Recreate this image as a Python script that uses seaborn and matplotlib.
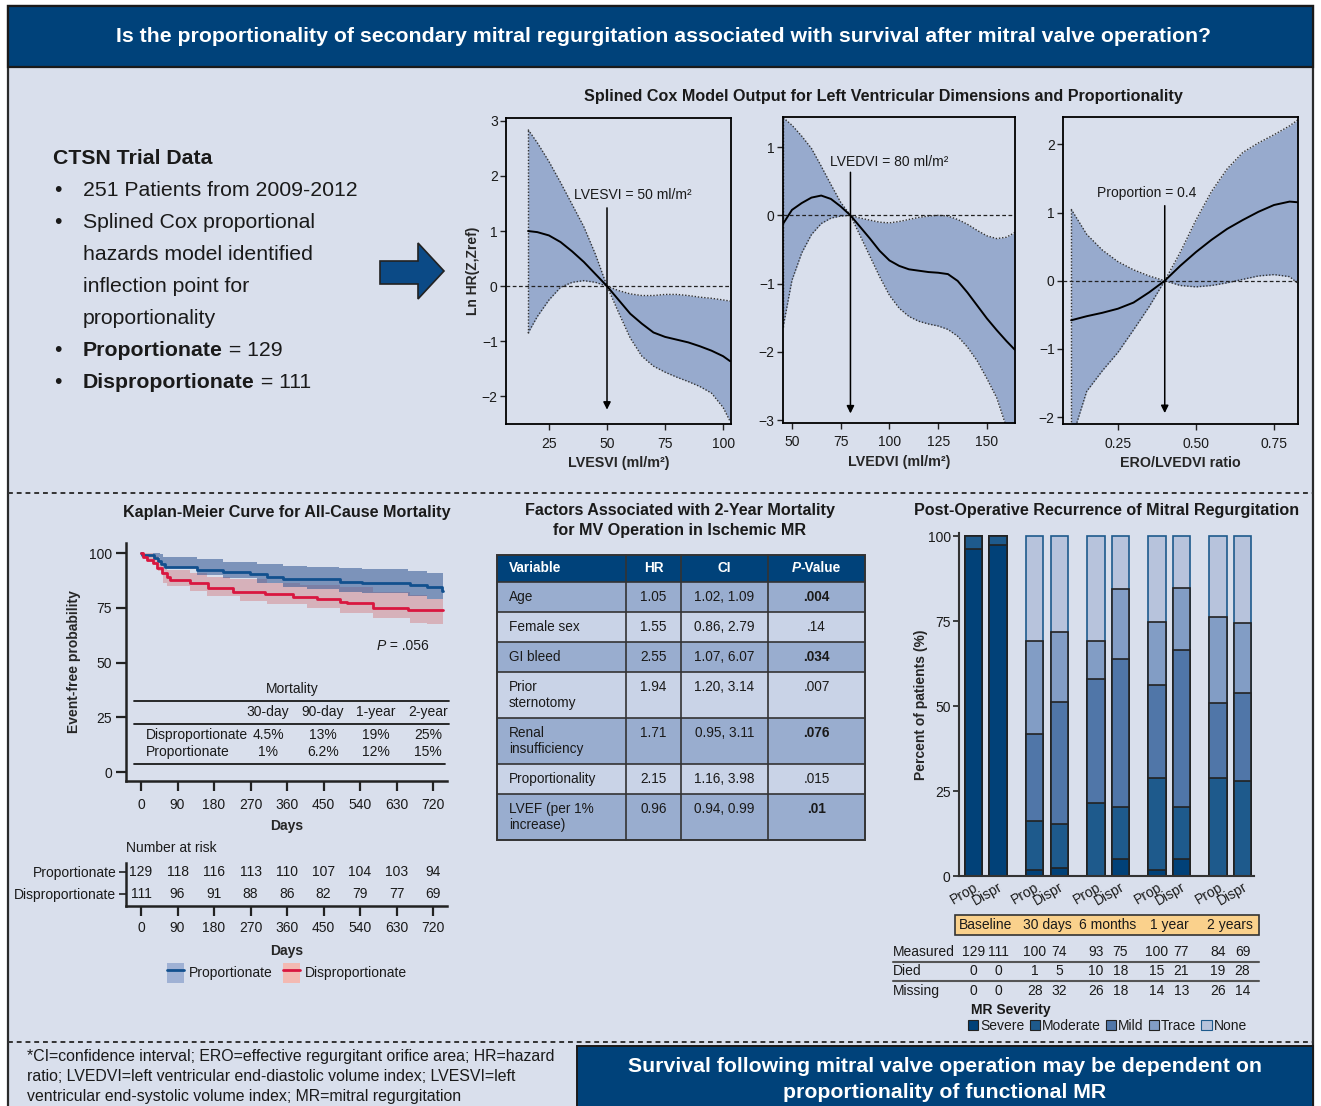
import matplotlib
matplotlib.use("Agg")
import matplotlib.pyplot as plt
import matplotlib.transforms as mtransforms
from matplotlib.patches import Rectangle, Polygon, Patch
from matplotlib.lines import Line2D
from matplotlib.legend_handler import HandlerTuple
import numpy as np
import seaborn as sns

W, H = 1321, 1106
NAVY = "#00427A"
PANEL_BG = "#D9DFEC"
BAND = "#97AACD"
INK = "#1a1a1a"

# ---------------- Splined Cox model: LVESVI ----------------
lvesvi_x = [16, 20, 25, 30, 35, 40, 45, 50, 55, 60, 65, 70, 75, 80, 85, 90, 95, 100, 103]
lvesvi_est = [1.00, 0.98, 0.92, 0.80, 0.63, 0.44, 0.22, 0.0, -0.25, -0.50, -0.68, -0.84, -0.92,
              -0.97, -1.02, -1.09, -1.17, -1.27, -1.36]
lvesvi_hi = [2.84, 2.60, 2.26, 1.88, 1.48, 1.08, 0.58, 0.0, -0.08, -0.14, -0.17, -0.17, -0.15,
             -0.15, -0.17, -0.20, -0.22, -0.25, -0.27]
lvesvi_lo = [-0.85, -0.55, -0.25, -0.02, 0.07, 0.10, 0.07, 0.0, -0.48, -0.94, -1.27, -1.45, -1.56,
             -1.65, -1.73, -1.82, -1.94, -2.20, -2.45]

# ---------------- Splined Cox model: LVEDVI ----------------
lvedvi_x = [45.5, 50, 55, 60, 65, 70, 75, 80, 85, 90, 95, 100, 105, 110, 115, 120, 125, 130, 135,
            140, 145, 150, 155, 160, 164.4]
lvedvi_est = [-0.12, 0.08, 0.18, 0.26, 0.29, 0.24, 0.13, 0.0, -0.17, -0.34, -0.52, -0.66, -0.74,
              -0.79, -0.81, -0.83, -0.84, -0.86, -0.96, -1.13, -1.32, -1.51, -1.68, -1.84, -1.97]
lvedvi_hi = [1.43, 1.32, 1.16, 0.98, 0.72, 0.45, 0.19, 0.0, -0.04, -0.07, -0.10, -0.11, -0.09,
             -0.06, -0.03, -0.01, 0.0, -0.01, -0.06, -0.13, -0.22, -0.30, -0.34, -0.32, -0.25]
lvedvi_lo = [-1.63, -0.95, -0.55, -0.28, -0.12, -0.04, -0.01, 0.0, -0.30, -0.60, -0.90, -1.17,
             -1.36, -1.48, -1.55, -1.59, -1.62, -1.67, -1.77, -1.93, -2.13, -2.39, -2.67, -3.10, -3.45]

# ---------------- Splined Cox model: ERO/LVEDVI ----------------
ratio_x = [0.10, 0.15, 0.20, 0.25, 0.30, 0.35, 0.40, 0.45, 0.50, 0.55, 0.60, 0.65, 0.70, 0.75,
           0.80, 0.827]
ratio_est = [-0.58, -0.52, -0.47, -0.41, -0.32, -0.17, 0.0, 0.22, 0.42, 0.60, 0.76, 0.89, 1.01,
             1.11, 1.16, 1.15]
ratio_hi = [1.05, 0.68, 0.45, 0.28, 0.16, 0.07, 0.0, 0.42, 0.89, 1.31, 1.64, 1.88, 2.02, 2.14,
            2.27, 2.36]
ratio_lo = [-2.35, -1.62, -1.32, -1.05, -0.72, -0.38, 0.0, -0.07, -0.09, -0.07, -0.03, 0.02, 0.07,
            0.09, 0.06, -0.04]

# ---------------- Kaplan-Meier ----------------
prop_days = [0, 3, 32, 42, 50, 58, 137, 202, 269, 310, 351, 491, 544, 663, 704, 742, 745]
prop_surv = [100, 99.2, 97.8, 96.3, 95.0, 93.8, 92.2, 91.2, 90.3, 89.2, 88.1, 86.9, 86.2, 85.4,
             84.5, 82.6, 82.6]
disp_days = [0, 6, 14, 30, 39, 51, 63, 72, 121, 166, 228, 306, 376, 433, 491, 507, 573, 659, 745]
disp_surv = [100, 98.3, 96.8, 95.3, 93.3, 90.7, 89.2, 87.7, 86.2, 83.9, 82.3, 81.1, 80.1, 79.0,
             77.8, 77.0, 75.0, 74.0, 74.0]
prop_band_days = [0, 30, 47, 55, 137, 203, 285, 351, 409, 487, 544, 659, 704, 745]
prop_band_hi = [100, 100, 99.4, 98.0, 97.1, 96.0, 95.0, 94.2, 93.7, 93.0, 92.5, 91.7, 91.1, 91.1]
prop_band_lo = [100, 98.0, 95.5, 93.0, 90.0, 88.4, 86.5, 84.7, 83.6, 82.4, 81.6, 80.4, 78.9, 78.9]
disp_band_days = [0, 14, 30, 43, 55, 63, 121, 162, 220, 244, 310, 392, 409, 491, 573, 663, 704, 745]
disp_band_hi = [100, 100, 98.6, 96.0, 93.0, 92.2, 90.7, 89.2, 88.0, 88.0, 86.5, 85.4, 85.4, 84.3,
                82.4, 80.9, 78.9, 78.9]
disp_band_lo = [99.0, 97.5, 96.0, 91.7, 86.4, 84.9, 82.6, 80.4, 80.4, 78.1, 76.6, 76.6, 75.1, 72.8,
                70.5, 68.2, 67.4, 67.4]

km_ticks = [0, 90, 180, 270, 360, 450, 540, 630, 720]
risk_prop = [129, 118, 116, 113, 110, 107, 104, 103, 94]
risk_disp = [111, 96, 91, 88, 86, 82, 79, 77, 69]

mort_periods = ["30-day", "90-day", "1-year", "2-year"]
mort_disp = ["4.5%", "13%", "19%", "25%"]
mort_prop = ["1%", "6.2%", "12%", "15%"]

# ---------------- Multivariable table ----------------
tbl_vars = ["Age", "Female sex", "GI bleed", "Prior\nsternotomy", "Renal\ninsufficiency",
            "Proportionality", "LVEF (per 1%\nincrease)"]
tbl_hr = ["1.05", "1.55", "2.55", "1.94", "1.71", "2.15", "0.96"]
tbl_ci = ["1.02, 1.09", "0.86, 2.79", "1.07, 6.07", "1.20, 3.14", "0.95, 3.11", "1.16, 3.98",
          "0.94, 0.99"]
tbl_p = [".004", ".14", ".034", ".007", ".076", ".015", ".01"]

# ---------------- MR recurrence ----------------
timepoints = ["Baseline", "30 days", "6 months", "1 year", "2 years"]
groups = ["Prop", "Dispr"]
severity = ["Severe", "Moderate", "Mild", "Trace", "None"]
sev_severe = [96.1, 97.3, 1.7, 2.3, 0.0, 5.0, 1.7, 5.0, 0.0, 0.0]
sev_moderate = [3.9, 2.7, 14.6, 13.0, 21.6, 15.4, 27.2, 15.4, 28.9, 28.0]
sev_mild = [0.0, 0.0, 25.4, 35.9, 36.4, 43.5, 27.4, 46.1, 21.9, 25.8]
sev_trace = [0.0, 0.0, 27.3, 20.6, 11.2, 20.5, 18.3, 18.1, 25.3, 20.7]
sev_none = [0.0, 0.0, 31.0, 28.2, 30.8, 15.6, 25.4, 15.4, 23.9, 25.5]
measured = [129, 111, 100, 74, 93, 75, 100, 77, 84, 69]
died = [0, 0, 1, 5, 10, 18, 15, 21, 19, 28]
missing = [0, 0, 28, 32, 26, 18, 14, 13, 26, 14]

sev_colors = ["#014178", "#1E5A8C", "#5076A8", "#829DC5", "#B7C3DC"]

# ---------------- style ----------------
sns.set_theme(style="ticks")
plt.rcParams["font.family"] = ["Liberation Sans", "DejaVu Sans"]
plt.rcParams["axes.unicode_minus"] = True
plt.rcParams["lines.dotted_pattern"] = [1.0, 1.3]
plt.rcParams["text.color"] = INK
plt.rcParams["xtick.color"] = "#222222"
plt.rcParams["ytick.color"] = "#222222"
plt.rcParams["xtick.labelcolor"] = INK
plt.rcParams["ytick.labelcolor"] = INK

FS = 10          # body text / tick labels
TITLE_FS = 11.6  # section titles
BANNER_FS = 15.3

fig = plt.figure(figsize=(W / 100, H / 100), dpi=100)
fig.patch.set_facecolor("white")

bg = fig.add_axes([0, 0, 1, 1], zorder=-5)
bg.set_xlim(0, W)
bg.set_ylim(H, 0)
bg.axis("off")


def px_axes(l, t, r, b):
    ax = fig.add_axes([l / W, 1 - b / H, (r - l) / W, (b - t) / H])
    ax.set_facecolor("none")
    return ax


renderer = fig.canvas.get_renderer()


def rich(x, y, parts, size, ha="left", color=INK):
    texts = [bg.text(x, y, s, fontsize=size, va="center", ha="left", color=color, **kw)
             for s, kw in parts]
    widths = [t.get_window_extent(renderer).width for t in texts]
    start = x - sum(widths) / 2 if ha == "center" else x
    for t, w in zip(texts, widths):
        t.set_x(start)
        start += w


# ---------------- frame, banners, separators ----------------
bg.add_patch(Rectangle((8, 6), 1305, 1120, fc=PANEL_BG, ec="#2b2b2b", lw=1.6))
bg.add_patch(Rectangle((8, 6), 1305, 61, fc=NAVY, ec="#1a1a1a", lw=1.6))
bg.text(663, 37, "Is the proportionality of secondary mitral regurgitation associated with "
        "survival after mitral valve operation?", color="white", fontsize=BANNER_FS,
        fontweight="bold", ha="center", va="center")
for yy in (493, 1042):
    bg.plot([8, 1313], [yy, yy], color="#333333", lw=1.4, ls=(0, (2.5, 2)))
bg.add_patch(Rectangle((577, 1046), 736, 70, fc=NAVY, ec="#1a1a1a", lw=1.4))
bg.text(945, 1067, "Survival following mitral valve operation may be dependent on",
        color="white", fontsize=BANNER_FS, fontweight="bold", ha="center", va="center")
bg.text(945, 1092, "proportionality of functional MR", color="white", fontsize=BANNER_FS,
        fontweight="bold", ha="center", va="center")
foot = ["*CI=confidence interval; ERO=effective regurgitant orifice area; HR=hazard",
        "ratio; LVEDVI=left ventricular end-diastolic volume index; LVESVI=left",
        "ventricular end-systolic volume index; MR=mitral regurgitation"]
for i, line in enumerate(foot):
    bg.text(27, 1057 + 19.5 * i, line, fontsize=11.4, ha="left", va="center")

# ---------------- trial summary ----------------
LEFT_FS = 15.3
bg.text(53, 158, "CTSN Trial Data", fontsize=LEFT_FS, fontweight="bold", ha="left", va="center")
plain_lines = [(190, "251 Patients from 2009-2012", True),
               (223, "Splined Cox proportional", True),
               (255, "hazards model identified", False),
               (287, "inflection point for", False),
               (319, "proportionality", False)]
for yy, s, bullet in plain_lines:
    if bullet:
        bg.text(54, yy, "\u2022", fontsize=LEFT_FS, ha="left", va="center")
    bg.text(83, yy, s, fontsize=LEFT_FS, ha="left", va="center")
for yy, bold_part, rest in [(351, "Proportionate", " = 129"), (383, "Disproportionate", " = 111")]:
    bg.text(54, yy, "\u2022", fontsize=LEFT_FS, ha="left", va="center")
    rich(83, yy, [(bold_part, {"fontweight": "bold"}), (rest, {})], LEFT_FS)

bg.add_patch(Polygon([(380, 261), (418, 261), (418, 243), (444, 271), (418, 299), (418, 284),
                      (380, 284)], closed=True, fc="#0B4A86", ec="#222222", lw=1.2))

# ---------------- spline panels ----------------
bg.text(883, 97, "Splined Cox Model Output for Left Ventricular Dimensions and Proportionality",
        fontsize=TITLE_FS, fontweight="bold", ha="center", va="center")


def spline_panel(rect, x, est, lo, hi, ref, label, label_xy, arrow_y, xlabel, xlim, ylim,
                 xticks, xticklabels, yticks):
    ax = px_axes(*rect)
    ax.fill_between(x, lo, hi, color=BAND, lw=0, zorder=1)
    sns.lineplot(x=x, y=hi, ax=ax, color="#333333", lw=1.0, linestyle=":", zorder=2)
    sns.lineplot(x=x, y=lo, ax=ax, color="#333333", lw=1.0, linestyle=":", zorder=2)
    ax.plot([x[0], x[0]], [lo[0], hi[0]], color="#333333", lw=1.0, linestyle=":", zorder=2)
    ax.axhline(0, color="#222222", lw=0.9, ls=(0, (3, 2)), zorder=3)
    sns.lineplot(x=x, y=est, ax=ax, color="black", lw=1.4, zorder=4)
    ax.annotate("", xy=(ref, arrow_y[1]), xytext=(ref, arrow_y[0]),
                arrowprops=dict(arrowstyle="-|>", color="black", lw=1.1, mutation_scale=11,
                                shrinkA=0, shrinkB=0), zorder=5)
    ax.text(label_xy[0], label_xy[1], label, ha="center", va="center", fontsize=FS)
    ax.set_xlim(*xlim)
    ax.set_ylim(*ylim)
    ax.set_xticks(xticks)
    ax.set_xticklabels(xticklabels)
    ax.set_yticks(yticks)
    ax.set_yticklabels([f"{v}".replace("-", "\u2212") for v in yticks])
    for sp in ax.spines.values():
        sp.set_color("black")
        sp.set_linewidth(1.3)
    ax.tick_params(direction="out", length=4, width=1, labelsize=FS, pad=2)
    ax.tick_params(axis="x", pad=5)
    ax.set_xlabel(xlabel, fontsize=10.3, fontweight="bold", labelpad=4)
    ax.set_ylabel("")
    return ax


p1 = spline_panel((506, 118, 731, 424), lvesvi_x, lvesvi_est, lvesvi_lo, lvesvi_hi, 50,
                  "LVESVI = 50 ml/m\u00b2", (61, 1.66), (1.42, -2.24), "LVESVI (ml/m\u00b2)",
                  (6.5, 103.4), (-2.5, 3.05), [25, 50, 75, 100], ["25", "50", "75", "100"],
                  [-2, -1, 0, 1, 2, 3])
p1.set_ylabel("Ln HR(Z,Zref)", fontsize=FS, fontweight="bold")
p1.yaxis.set_label_coords(-0.115, 0.5)
p2 = spline_panel((783, 117, 1015, 423), lvedvi_x, lvedvi_est, lvedvi_lo, lvedvi_hi, 80,
                  "LVEDVI = 80 ml/m\u00b2", (99.7, 0.78), (0.63, -2.9), "LVEDVI (ml/m\u00b2)",
                  (45.4, 164.4), (-3.04, 1.44), [50, 75, 100, 125, 150],
                  ["50", "75", "100", "125", "150"], [-3, -2, -1, 0, 1])
p3 = spline_panel((1063, 117, 1298, 424), ratio_x, ratio_est, ratio_lo, ratio_hi, 0.4,
                  "Proportion = 0.4", (0.343, 1.28), (1.1, -1.94), "ERO/LVEDVI ratio",
                  (0.074, 0.827), (-2.1, 2.4), [0.25, 0.5, 0.75], ["0.25", "0.50", "0.75"],
                  [-2, -1, 0, 1, 2])

# ---------------- Kaplan-Meier ----------------
BLUE = "#12508E"
RED = "#D9163F"
bg.text(287, 512, "Kaplan-Meier Curve for All-Cause Mortality", fontsize=TITLE_FS,
        fontweight="bold", ha="center", va="center")
km = px_axes(126, 543, 447, 781)
km.fill_between(disp_band_days, disp_band_lo, disp_band_hi, step="post", color="#D4797F",
                alpha=0.45, lw=0)
km.fill_between(prop_band_days, prop_band_lo, prop_band_hi, step="post", color="#3A5C97",
                alpha=0.58, lw=0)
sns.lineplot(x=prop_days, y=prop_surv, ax=km, color=BLUE, lw=2, drawstyle="steps-post")
sns.lineplot(x=disp_days, y=disp_surv, ax=km, color=RED, lw=2, drawstyle="steps-post")
km.set_xlim(-37, 754.5)
km.set_ylim(-4.1, 104.6)
km.set_xticks(km_ticks)
km.set_yticks([0, 25, 50, 75, 100])
km.set_yticklabels(["0", "25", "50", "75", "100"])
sns.despine(ax=km)
for sp in ("left", "bottom"):
    km.spines[sp].set_linewidth(1.8)
    km.spines[sp].set_color("#222222")
km.tick_params(direction="out", length=7, width=1.6, labelsize=FS, pad=3)
km.tick_params(axis="x", pad=5)
km.set_xlabel("Days", fontsize=FS, fontweight="bold", labelpad=5)
km.set_ylabel("Event-free probability", fontsize=FS, fontweight="bold")
km.yaxis.set_label_coords(-0.14, 0.5)
rich(377, 646, [("P", {"fontstyle": "italic"}), (" = .056", {})], FS)

# mortality summary inside the KM plot
bg.text(292, 689, "Mortality", fontsize=FS, ha="center", va="center")
mort_cols = [268, 323, 376, 428]
for yy, x2 in ((701, 449), (724, 449), (764, 445)):
    bg.plot([134, x2], [yy, yy], color=INK, lw=1.3)
for cx, lab, d, p in zip(mort_cols, mort_periods, mort_disp, mort_prop):
    bg.text(cx, 712, lab, fontsize=FS, ha="center", va="center")
    bg.text(cx, 735, d, fontsize=FS, ha="center", va="center")
    bg.text(cx, 752, p, fontsize=FS, ha="center", va="center")
bg.text(146, 735, "Disproportionate", fontsize=FS, ha="left", va="center")
bg.text(146, 752, "Proportionate", fontsize=FS, ha="left", va="center")

# number at risk
bg.text(126, 848, "Number at risk", fontsize=FS, ha="left", va="center")
rt = px_axes(126, 863, 447, 906)
rt.set_xlim(-37, 754.5)
rt.set_ylim(-0.55, 1.41)
for d, a, b in zip(km_ticks, risk_prop, risk_disp):
    rt.text(d, 1, str(a), ha="center", va="center", fontsize=FS)
    rt.text(d, 0, str(b), ha="center", va="center", fontsize=FS)
rt.set_xticks(km_ticks)
rt.set_yticks([1, 0])
rt.set_yticklabels(["Proportionate", "Disproportionate"])
sns.despine(ax=rt)
for sp in ("left", "bottom"):
    rt.spines[sp].set_linewidth(1.8)
    rt.spines[sp].set_color("#222222")
rt.tick_params(axis="x", direction="out", length=7, width=1.6, labelsize=FS, pad=4)
rt.tick_params(axis="y", direction="out", length=5, width=1.2, labelsize=FS, pad=2)
rt.set_xlabel("Days", fontsize=FS, fontweight="bold", labelpad=6)

fig.legend(handles=[(Patch(fc="#9FB1D4", ec="none"), Line2D([], [], color=BLUE, lw=2)),
                    (Patch(fc="#F3B9B2", ec="none"), Line2D([], [], color=RED, lw=2))],
           labels=["Proportionate", "Disproportionate"],
           handler_map={tuple: HandlerTuple(ndivide=1)}, loc="center",
           bbox_to_anchor=(287 / W, 1 - 973 / H), ncol=2, frameon=False, fontsize=FS,
           handlelength=1.25, handleheight=1.9, columnspacing=0.7, handletextpad=0.35)

# ---------------- multivariable table ----------------
bg.text(680, 511, "Factors Associated with 2-Year Mortality", fontsize=TITLE_FS,
        fontweight="bold", ha="center", va="center")
bg.text(680, 531, "for MV Operation in Ischemic MR", fontsize=TITLE_FS, fontweight="bold",
        ha="center", va="center")
TFS = 9.8
col_edges = [497, 626, 681, 768, 865]
col_centers = [(col_edges[i] + col_edges[i + 1]) / 2 for i in range(1, 4)]
top, head_bottom = 555, 582
bg.add_patch(Rectangle((col_edges[0], top), col_edges[-1] - col_edges[0], head_bottom - top,
                       fc=NAVY, ec="none"))
bg.text(509, 568, "Variable", color="white", fontsize=TFS, fontweight="bold", va="center")
bg.text(col_centers[0], 568, "HR", color="white", fontsize=TFS, fontweight="bold",
        ha="center", va="center")
bg.text(col_centers[1], 568, "CI", color="white", fontsize=TFS, fontweight="bold",
        ha="center", va="center")
rich(col_centers[2], 568, [("P", {"fontweight": "bold", "fontstyle": "italic"}),
                           ("-Value", {"fontweight": "bold"})], TFS, ha="center", color="white")
row_top = head_bottom
row_edges = [top, head_bottom]
for i, (v, hr, ci, p) in enumerate(zip(tbl_vars, tbl_hr, tbl_ci, tbl_p)):
    lines = v.split("\n")
    h = 30 + 16 * (len(lines) - 1)
    dark = i % 2 == 0
    bg.add_patch(Rectangle((col_edges[0], row_top), col_edges[-1] - col_edges[0], h,
                           fc="#99ADCF" if dark else "#C9D3E7", ec="none"))
    for j, ln in enumerate(lines):
        bg.text(509, row_top + 15 + 16 * j, ln, fontsize=TFS, va="center", ha="left")
    bg.text(col_centers[0], row_top + 15, hr, fontsize=TFS, ha="center", va="center")
    bg.text(col_centers[1], row_top + 15, ci, fontsize=TFS, ha="center", va="center")
    bg.text(col_centers[2], row_top + 15, p, fontsize=TFS, ha="center", va="center",
            fontweight="bold" if dark else "normal")
    row_top += h
    row_edges.append(row_top)
for yy in row_edges[1:-1]:
    bg.plot([col_edges[0], col_edges[-1]], [yy, yy], color="#333333", lw=1.2)
for xx in col_edges[1:-1]:
    bg.plot([xx, xx], [top, row_edges[-1]], color="#333333", lw=1.2)
bg.add_patch(Rectangle((col_edges[0], top), col_edges[-1] - col_edges[0], row_edges[-1] - top,
                       fc="none", ec="#333333", lw=1.4))

# ---------------- MR recurrence stacked bars ----------------
bg.text(1107, 511, "Post-Operative Recurrence of Mitral Regurgitation", fontsize=TITLE_FS,
        fontweight="bold", ha="center", va="center")
bx = px_axes(959, 533, 1254, 876)
bar_x = [g * 2.5 + m for g in range(len(timepoints)) for m in range(len(groups))]
layers = [sev_severe, sev_moderate, sev_mild, sev_trace, sev_none]
cum = np.cumsum(np.array(layers), axis=0)
for k in range(len(layers) - 1, -1, -1):
    sns.barplot(x=bar_x, y=cum[k], ax=bx, native_scale=True, orient="x", width=0.71,
                color=sev_colors[k], saturation=1, errorbar=None,
                edgecolor="#1E5A8C" if k == 4 else "#222222", linewidth=1.2)
bx.set_xlim(-0.6, 11.47)
bx.set_ylim(0, 100.9)
bx.set_yticks([0, 25, 50, 75, 100])
bx.set_yticklabels(["0", "25", "50", "75", "100"])
bx.set_xticks(bar_x)
bx.set_xticklabels(groups * len(timepoints), rotation=30, ha="right", va="top",
                   rotation_mode="anchor")
offset = mtransforms.ScaledTranslation(7 / 100, -2 / 100, fig.dpi_scale_trans)
for lab in bx.get_xticklabels():
    lab.set_transform(lab.get_transform() + offset)
sns.despine(ax=bx)
for sp in ("left", "bottom"):
    bx.spines[sp].set_linewidth(1.5)
    bx.spines[sp].set_color("#333333")
bx.tick_params(axis="y", direction="out", length=4, width=1.2, labelsize=FS, pad=2)
bx.tick_params(axis="x", length=0, labelsize=FS, pad=3)
bx.set_ylabel("Percent of patients (%)", fontsize=FS, fontweight="bold")
bx.yaxis.set_label_coords(-0.105, 0.5)
bx.set_xlabel("")

mix = mtransforms.blended_transform_factory(bx.transData, bg.transData)
bg.add_patch(Rectangle((955, 915), 304, 20, fc="#FAD18C", ec="#333333", lw=1.2))
for g, tp in enumerate(timepoints):
    gx = (bar_x[2 * g] + bar_x[2 * g + 1]) / 2
    bx.text(gx, 925, tp, transform=mix, fontsize=FS, ha="center", va="center", clip_on=False)
for yy, name, vals in ((952, "Measured", measured), (971, "Died", died), (991, "Missing", missing)):
    bg.text(893, yy, name, fontsize=FS, ha="left", va="center")
    for xv, v in zip(bar_x, vals):
        bx.text(xv, yy, str(v), transform=mix, fontsize=FS, ha="center", va="center",
                clip_on=False)
for yy in (962, 981):
    bg.plot([893, 1259], [yy, yy], color="#555555", lw=1.5)
bg.text(971, 1010, "MR Severity", fontsize=FS, fontweight="bold", ha="left", va="center")
sev_handles = [Patch(fc=c, ec="#1E5A8C" if n == "None" else "#222222", lw=0.8)
               for n, c in zip(severity, sev_colors)]
fig.legend(sev_handles, severity, loc="upper left", bbox_to_anchor=(968 / W, 1 - 1019 / H),
           ncol=5, frameon=False, fontsize=FS, handlelength=0.75, handleheight=0.75,
           handletextpad=0.15, columnspacing=0.35, borderpad=0, borderaxespad=0)

fig.savefig("out.png", dpi=100, facecolor=fig.get_facecolor())
